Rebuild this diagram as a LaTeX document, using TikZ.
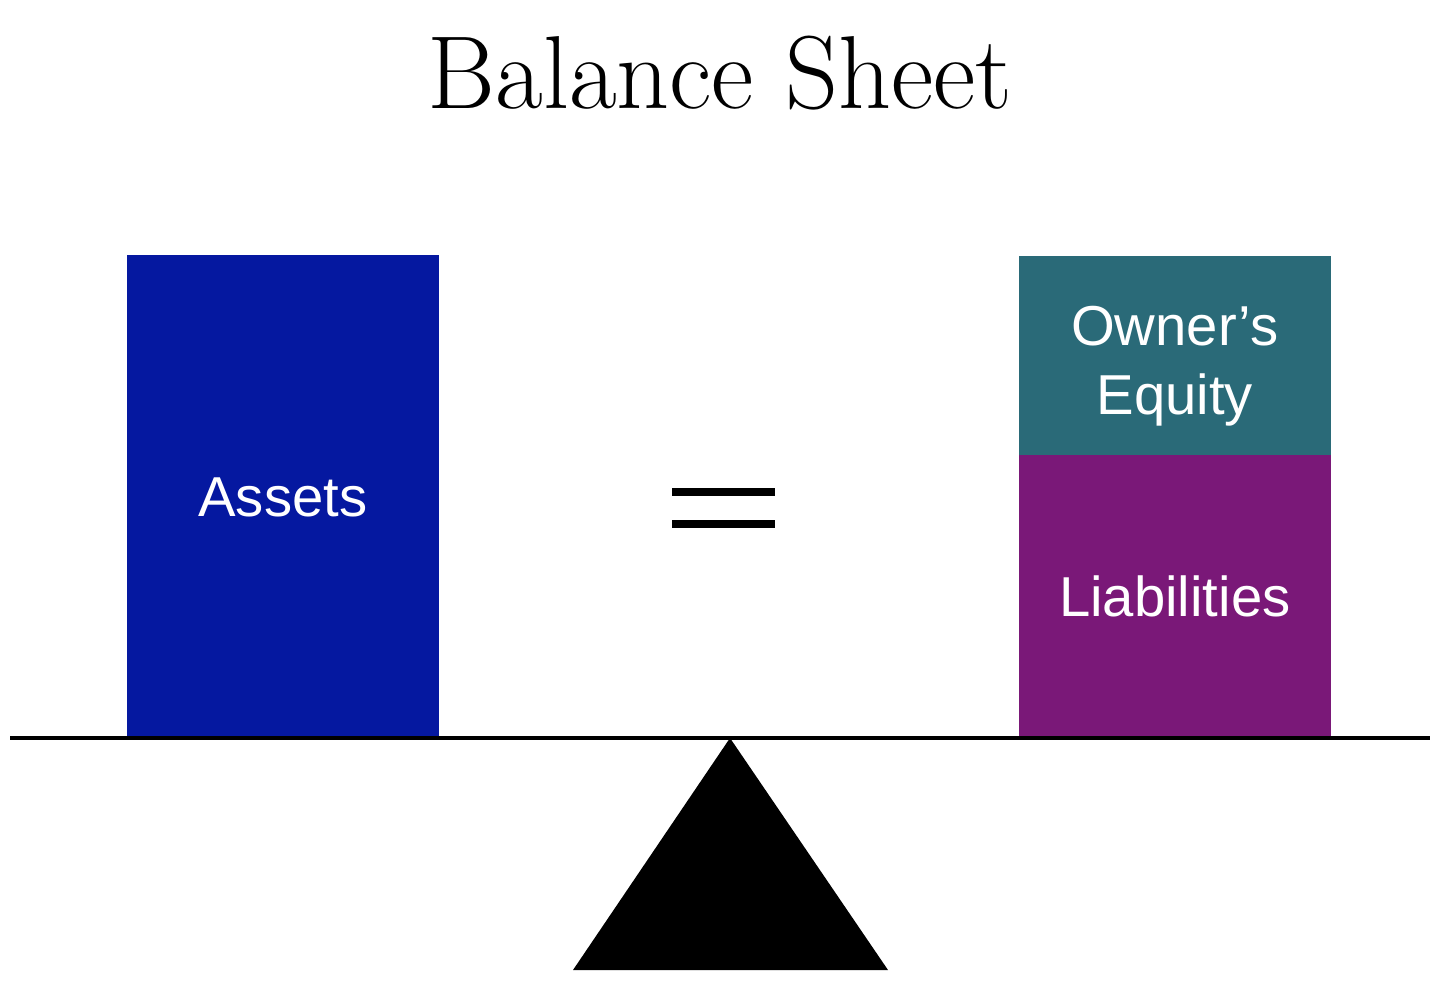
\documentclass[tikz,border=0pt]{standalone}
\usepackage{fontspec}
\setsansfont{Liberation Sans}
\usetikzlibrary{positioning}
\definecolor{assetblue}{HTML}{0518A0}
\definecolor{equityteal}{HTML}{2A6A78}
\definecolor{liabpurple}{HTML}{7A1878}

\begin{document}
\begin{tikzpicture}[x=0.01cm,y=-0.01cm,node distance=0pt,
    boxtext/.style={text=white,align=center,font=\sffamily\fontsize{16}{19.5}\selectfont},
    block/.style={boxtext,rectangle,inner sep=0pt,minimum width=3.12cm}]
   \useasboundingbox (0,0) rectangle (1440,987);
   \node[anchor=base,font=\fontsize{29.5}{34}\selectfont] (title) at (720,108) {Balance Sheet};
   \node[block,fill=assetblue,minimum height=4.84cm,anchor=south west] (assets) at (126,740) {Assets};
   \node[block,fill=liabpurple,minimum height=2.85cm,anchor=south west] (liab) at (1018,740) {Liabilities};
   \node[block,fill=equityteal,minimum height=1.99cm,
     label={[boxtext,yshift=-0.11cm]center:{Owner’s\\Equity}}] (equity) [above=-0.02cm of liab] {};
   % equals sign
   \coordinate (eqA) at (672,492);
   \coordinate (eqB) at (775,492);
   \coordinate (eqC) at (672,524);
   \coordinate (eqD) at (775,524);
   \draw[line width=2.3pt] (eqA) -- (eqB) (eqC) -- (eqD);
   % beam and pivot
   \coordinate (beamL) at (10,738);
   \coordinate (beamR) at (1430,738);
   \coordinate (pivot) at (730,738);
   \draw[line width=1.4pt] (beamL) -- (beamR);
   \fill (pivot) -- (888,970) -- (573,970) -- cycle;
\end{tikzpicture}
\end{document}
